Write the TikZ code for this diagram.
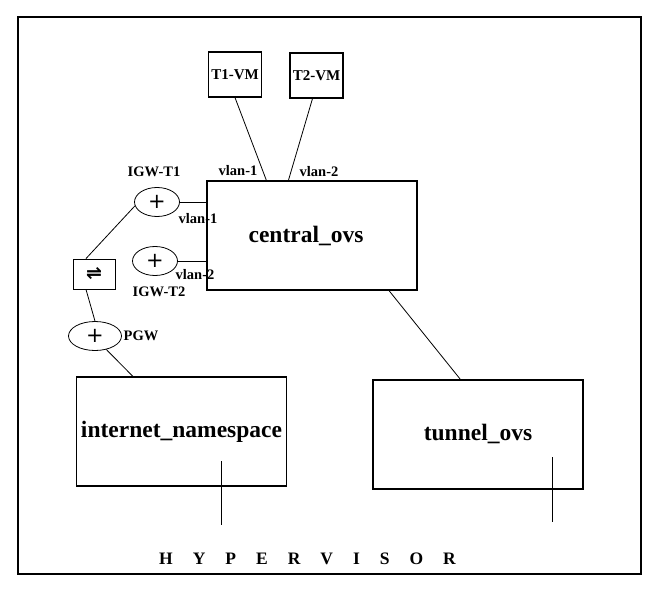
\documentclass[tikz,border=0pt]{standalone}
\usepackage{fontspec}
\setmainfont{Liberation Serif}
\newfontfamily\symfont{DejaVu Sans}
\usetikzlibrary{shapes.geometric}
\tikzset{
  box/.style={draw, line width=1.2pt, rectangle, inner sep=0pt, font=\bfseries},
  bigbox/.style={box, minimum width=210pt, minimum height=109pt, font=\fontsize{23.5}{25}\selectfont\bfseries},
  vmbox/.style={box, minimum width=53pt, minimum height=45pt, font=\fontsize{15}{16}\selectfont\bfseries},
  gw/.style={draw, line width=0.8pt, ellipse, inner sep=0pt, minimum width=45pt, minimum height=29pt, font=\symfont\fontsize{21}{21}\selectfont},
  lbl/.style={inner sep=0pt, font=\fontsize{14.5}{16}\selectfont\bfseries},
  wire/.style={line width=0.8pt},
}
\begin{document}
\begin{tikzpicture}[x=1pt,y=-1pt]
\useasboundingbox (0,0) rectangle (660,588);
\node[draw, line width=1.6pt, minimum width=623pt, minimum height=557pt, inner sep=0pt] (frame) at (329.5,295.5) {};
% boxes
\node[vmbox] (t1vm) at (235,74.5) {T1-VM};
\node[vmbox] (t2vm) at (316.5,75.5) {T2-VM};
\node[bigbox] (central) at (312,235.5) {\raisebox{-3pt}{\hspace*{-12pt}central\_ovs}};
\node[bigbox] (inet) at (181.5,431.5) {internet\_namespace};
\node[bigbox] (tunnel) at (478,434.5) {\raisebox{4pt}{tunnel\_ovs}};
\node[box, minimum width=42pt, minimum height=30pt, line width=0.9pt] (sw) at (94,274) {\symfont\fontsize{19}{19}\selectfont ⇌};
\node[gw] (igw1) at (157,202) {+};
\node[gw] (igw2) at (155,261) {+};
\node[gw, minimum width=53pt] (pgw) at (95,336) {+};
% labels
\node[lbl] (lv1) at (238,171) {vlan-1};
\node[lbl] (lv2) at (319,172) {vlan-2};
\node[lbl] (ligw1) at (154,172) {IGW-T1};
\node[lbl] (lv1b) at (198,219) {vlan-1};
\node[lbl] (lv2b) at (195,275) {vlan-2};
\node[lbl] (ligw2) at (159,292) {IGW-T2};
\node[lbl] (lpgw) at (141,336) {PGW};
\node[inner sep=0pt, font=\fontsize{17.5}{18}\selectfont\bfseries] (hyp) at (307.5,559)
  {H\hspace{20pt}Y\hspace{20pt}P\hspace{20pt}E\hspace{20pt}R\hspace{20pt}V\hspace{20pt}I\hspace{20pt}S\hspace{20pt}O\hspace{20pt}R};
% connectors
\draw[wire] (t1vm.south) -- ([xshift=60pt]central.north west);
\draw[wire] ([xshift=-4pt]t2vm.south) -- ([xshift=82pt]central.north west);
\draw[wire] (igw1.east) -- (igw1.east -| central.west);
\draw[wire] (igw2.east) -- (igw2.east -| central.west);
\draw[wire] (igw1.190) -- ([xshift=-8pt]sw.north);
\draw[wire] ([xshift=-8pt]sw.south) -- (pgw.north);
\draw[wire] (pgw.-50) -- ([xshift=57pt]inet.north west);
\draw[wire] ([xshift=77pt]central.south) -- ([xshift=88pt]tunnel.north west);
% free lines
\coordinate (ia) at (221,461);
\coordinate (ib) at (221,525);
\coordinate (ta) at (552,457);
\coordinate (tb) at (552,522);
\draw[wire, line width=1pt] (ia) -- (ib);
\draw[wire, line width=1pt] (ta) -- (tb);
\end{tikzpicture}
\end{document}
